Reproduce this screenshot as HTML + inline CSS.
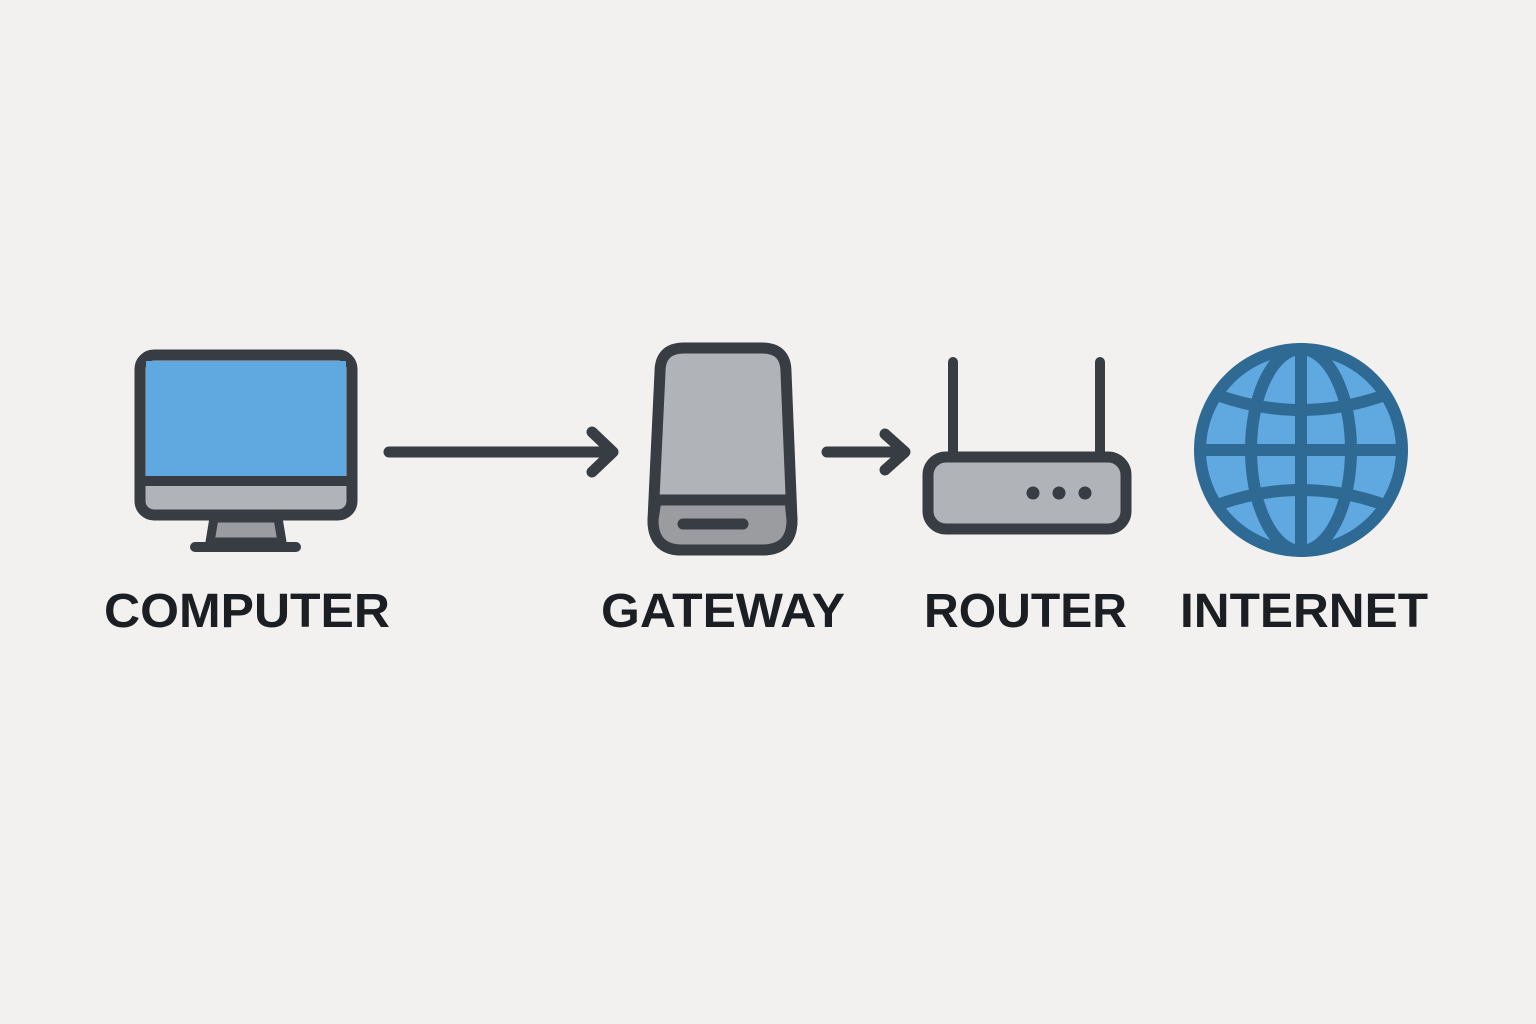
<!DOCTYPE html>
<html><head><style>html,body{margin:0;padding:0;background:#f2f1ef;}svg{display:block}</style></head>
<body>
<svg width="1536" height="1024" viewBox="0 0 1536 1024" xmlns="http://www.w3.org/2000/svg">
<rect width="1536" height="1024" fill="#f2f1ef"/>
<g stroke="#373d43" stroke-linecap="round" stroke-linejoin="round">
<polygon points="214,518 278,518 282,542 210,542" fill="#9a9ca0" stroke-width="9"/>
<line x1="195" y1="547" x2="296" y2="547" stroke-width="10"/>
<rect x="140" y="355" width="212" height="160" rx="14" fill="#b0b3b8" stroke-width="11"/>
<rect x="146" y="361" width="200" height="115" fill="#5fa8e0" stroke="none"/>
<line x1="141" y1="481" x2="351" y2="481" stroke-width="10"/>
<line x1="389" y1="452" x2="612" y2="452" stroke-width="11"/>
<polyline points="592,432 613,452 592,472" fill="none" stroke-width="11"/>
<path d="M660,372 Q660,348 684,348 L762,348 Q786,348 786,372 L792,520 Q792,550 762,550 L682,550 Q653,550 653,520 Z" fill="#b0b3b8" stroke-width="11"/>
<path d="M656,500 L790,500 L792,520 Q792,550 762,550 L682,550 Q653,550 653,520 Z" fill="#9a9ca0" stroke-width="11"/>
<line x1="683" y1="524" x2="743" y2="524" stroke-width="11"/>
<line x1="827" y1="452" x2="904" y2="452" stroke-width="11"/>
<polyline points="885,434 905,452 885,470" fill="none" stroke-width="11"/>
<line x1="953" y1="362" x2="953" y2="455" stroke-width="10"/>
<line x1="1100" y1="362" x2="1100" y2="455" stroke-width="10"/>
<rect x="928" y="457" width="198" height="72" rx="18" fill="#b0b3b8" stroke-width="11"/>
</g>
<g fill="#373d43"><circle cx="1033" cy="493" r="6.5"/><circle cx="1059" cy="493" r="6.5"/><circle cx="1085" cy="493" r="6.5"/></g>
<g stroke="#2e6a94" stroke-width="12" fill="none">
<circle cx="1301" cy="450" r="101" fill="#5fa8e0"/>
<ellipse cx="1301" cy="450" rx="50" ry="101"/>
<line x1="1301" y1="349" x2="1301" y2="551"/>
<line x1="1200" y1="450" x2="1402" y2="450"/>
<path d="M1217,395 Q1301,425 1385,395"/>
<path d="M1217,505 Q1301,475 1385,505"/>
</g>
<g font-family="Liberation Sans, sans-serif" font-weight="bold" font-size="48" fill="#1b1f23">
<text x="104" y="627" textLength="286" lengthAdjust="spacingAndGlyphs">COMPUTER</text>
<text x="601" y="627" textLength="244" lengthAdjust="spacingAndGlyphs">GATEWAY</text>
<text x="924" y="627" textLength="203" lengthAdjust="spacingAndGlyphs">ROUTER</text>
<text x="1180" y="627" textLength="248" lengthAdjust="spacingAndGlyphs">INTERNET</text>
</g>
</svg>
</body></html>
